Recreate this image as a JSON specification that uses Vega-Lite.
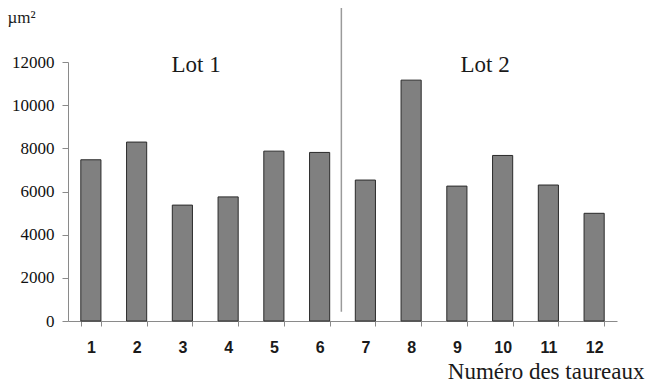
{
  "$schema": "https://vega.github.io/schema/vega-lite/v6.json",
  "autosize": "none",
  "width": 549,
  "height": 259,
  "padding": {"left": 68, "top": 62, "right": 28, "bottom": 66},
  "background": "white",
  "config": {"view": {"stroke": null}},
  "datasets": {
    "taureaux": [
      {"taureau": "1", "surface": 7470},
      {"taureau": "2", "surface": 8290},
      {"taureau": "3", "surface": 5370},
      {"taureau": "4", "surface": 5750},
      {"taureau": "5", "surface": 7870},
      {"taureau": "6", "surface": 7810},
      {"taureau": "7", "surface": 6530},
      {"taureau": "8", "surface": 11160},
      {"taureau": "9", "surface": 6250},
      {"taureau": "10", "surface": 7670},
      {"taureau": "11", "surface": 6300},
      {"taureau": "12", "surface": 4990}
    ]
  },
  "layer": [
    {
      "data": {"name": "taureaux"},
      "mark": {"type": "bar", "fill": "#808080", "stroke": "#2a2a2a", "strokeWidth": 1},
      "encoding": {
        "x": {
          "field": "taureau", "type": "ordinal", "sort": null,
          "scale": {"domain": ["1","2","3","4","5","6","7","8","9","10","11","12"], "paddingInner": 0.56, "paddingOuter": 0.28},
          "axis": {
            "title": "Numéro des taureaux",
            "labelAngle": 0,
            "tickBand": "extent",
            "domainColor": "#8a8a8a",
            "tickColor": "#8a8a8a",
            "tickSize": 5,
            "labelFont": "Liberation Sans",
            "labelFontSize": 16,
            "labelFontWeight": "bold",
            "labelColor": "#1a1a1a",
            "labelPadding": 13,
            "titleFont": "Liberation Serif",
            "titleFontSize": 23,
            "titleFontWeight": "normal",
            "titleColor": "#1a1a1a",
            "titleX": 576,
            "titleY": 57,
            "titleAlign": "right",
            "titleBaseline": "alphabetic"
          }
        },
        "y": {
          "field": "surface", "type": "quantitative",
          "scale": {"domain": [0, 12000], "nice": false},
          "axis": {
            "title": "µm²",
            "format": "d",
            "values": [0, 2000, 4000, 6000, 8000, 10000, 12000],
            "grid": false,
            "domainColor": "#8a8a8a",
            "tickColor": "#8a8a8a",
            "tickSize": 6,
            "labelFont": "Liberation Serif",
            "labelFontSize": 17,
            "labelColor": "#111111",
            "labelPadding": 8,
            "titleFont": "Liberation Serif",
            "titleFontSize": 17,
            "titleFontWeight": "normal",
            "titleColor": "#1a1a1a",
            "titleAngle": 0,
            "titleX": -61,
            "titleY": -40,
            "titleAlign": "left",
            "titleBaseline": "alphabetic"
          }
        }
      }
    },
    {
      "data": {"values": [{"taureau": "6", "bas": 430, "haut": 14500}]},
      "mark": {"type": "rule", "color": "#9a9a9a", "strokeWidth": 1.5},
      "encoding": {
        "x": {"field": "taureau", "type": "ordinal", "bandPosition": 1.58},
        "y": {"field": "bas", "type": "quantitative"},
        "y2": {"field": "haut"}
      }
    },
    {
      "data": {"values": [{"taureau": "3", "surface": 11850, "lot": "Lot 1"}]},
      "mark": {"type": "text", "font": "Liberation Serif", "fontSize": 23, "color": "#1a1a1a", "align": "center", "baseline": "middle"},
      "encoding": {
        "x": {"field": "taureau", "type": "ordinal", "bandPosition": 1.18},
        "y": {"field": "surface", "type": "quantitative"},
        "text": {"field": "lot"}
      }
    },
    {
      "data": {"values": [{"taureau": "9", "surface": 11850, "lot": "Lot 2"}]},
      "mark": {"type": "text", "font": "Liberation Serif", "fontSize": 23, "color": "#1a1a1a", "align": "center", "baseline": "middle"},
      "encoding": {
        "x": {"field": "taureau", "type": "ordinal", "bandPosition": 1.9},
        "y": {"field": "surface", "type": "quantitative"},
        "text": {"field": "lot"}
      }
    }
  ]
}
